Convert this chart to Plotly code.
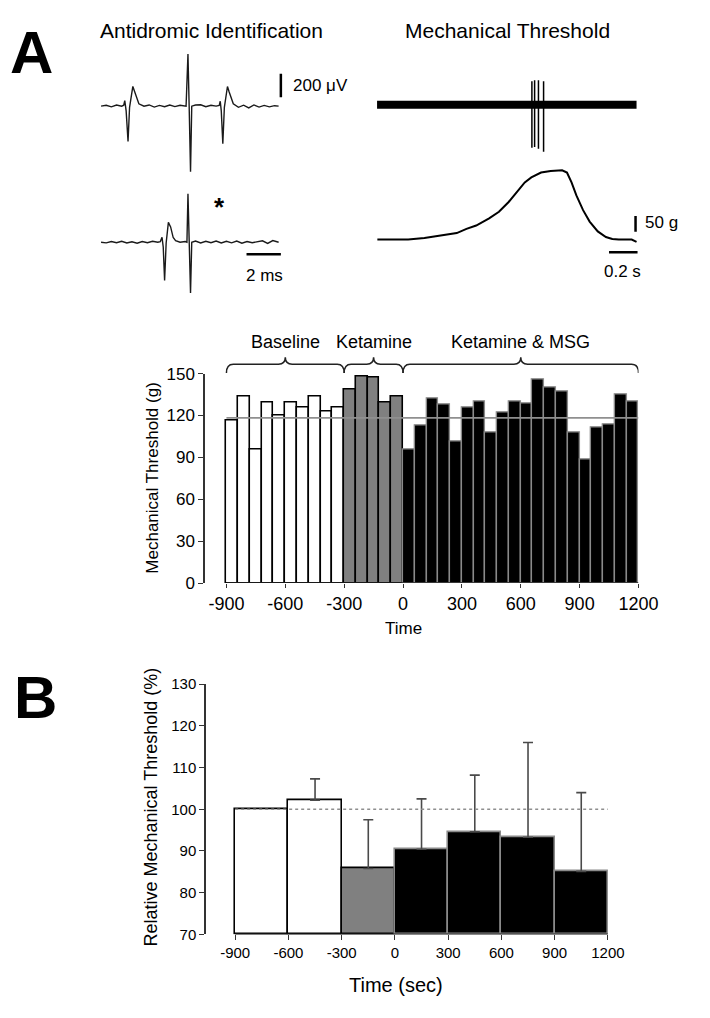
import plotly.graph_objects as go

W, H = 710, 1018
FONT = "Liberation Sans, Arial, sans-serif"

# ---------------- Panel A: bar histogram (60 s bins) ----------------
a_bin_width = 60
a_start = -900
baseline_vals = [116.4, 133.5, 95.3, 129, 119.9, 129, 125.8, 133.5, 122.5, 125.8]
ketamine_vals = [138.6, 148.2, 147, 129.3, 133.5]
msg_vals = [95.8, 112.8, 131.8, 127.6, 101.2, 125.5, 129.7, 107.5, 122.2, 129.7,
            128.5, 145.6, 140.2, 136.9, 107.5, 88.5, 111.7, 113.8, 134.8, 129.7]
baseline_mean = 118.3
a_yticks = [0, 30, 60, 90, 120, 150]
a_xticks = [-900, -600, -300, 0, 300, 600, 900, 1200]
a_xticktext = ["-900", "-600", "-300", "0", "300", "600", "900", "1200"]
periods = [(-900, -300, "Baseline"), (-300, 0, "Ketamine"), (0, 1200, "Ketamine & MSG")]
drug_marks = [(-300, "#8c8c8c"), (0, "#000000")]

# ---------------- Panel B: 300 s bins, mean + SD ----------------
b_centers = [-750, -450, -150, 150, 450, 750, 1050]
b_width = 300
b_vals = [100, 102.2, 85.8, 90.4, 94.6, 93.3, 85.1]
b_err = [None, 5.1, 11.7, 12.1, 13.6, 22.7, 18.9]
b_phase = ["base", "base", "ket", "msg", "msg", "msg", "msg"]
b_yticks = [70, 80, 90, 100, 110, 120, 130]
b_xticks = [-900, -600, -300, 0, 300, 600, 900, 1200]
b_xticktext = ["-900", "-600", "-300", "0", "300", "600", "900", "1200"]

# ---------------- Antidromic traces (ms, uV) ----------------
up_t = [0, 0.3, 0.6, 0.9, 1.2, 1.32, 1.38, 1.46, 1.57, 1.66, 1.85, 1.95, 2.2, 2.5, 2.8, 3.1, 3.4, 3.7,
        4.0, 4.3, 4.6, 4.95, 5.06, 5.13, 5.21, 5.28, 5.5, 5.8, 6.1, 6.4, 6.7, 6.88, 6.94, 7.0, 7.09,
        7.18, 7.36, 7.46, 7.7, 8.0, 8.3, 8.6, 8.9, 9.2, 9.5, 9.8, 10.1, 10.34]
up_v = [0, 8, -6, 10, 0, 8, 47, -40, -300, -10, 167, 120, 20, 0, 10, -8, 6, -5,
        10, -4, 8, 0, 442, 0, -556, 0, 10, 12, -5, 8, 0, 6, 42, -40, -319,
        -10, 167, 120, 20, -10, 8, -15, 10, -8, 6, -6, 4, 0]
lo_t = [0, 0.3, 0.6, 0.9, 1.2, 1.5, 1.8, 2.1, 2.4, 2.7, 3.0, 3.3, 3.45, 3.55, 3.62, 3.70, 3.79,
        3.92, 4.05, 4.2, 4.34, 4.6, 4.9, 5.0, 5.06, 5.13, 5.21, 5.28, 5.5, 5.8, 6.1, 6.4, 6.7, 7.0,
        7.3, 7.6, 7.9, 8.2, 8.5, 8.8, 9.1, 9.4, 9.7, 10.0, 10.34]
lo_v = [0, -5, 6, -4, 8, -6, 4, -8, 6, -4, 8, 0, 6, 42, -40, -325, -6,
        169, 130, 40, 14, 0, 6, 0, 411, 0, -431, 0, 10, -6, 8, -4, 10, -6,
        8, -5, 10, -8, 6, -4, 6, 12, -10, 14, 0]

# ---------------- Mechanical threshold traces (s) ----------------
unit_t = [0, 1.82]
unit_v = [0, 0]
spike_t = [1.086, 1.105, 1.132, 1.168]
spike_top = [24, 25, 25, 24]
spike_bot = [-44, -43, -45, -48]
force_t = [0.002, 0.105, 0.218, 0.332, 0.445, 0.559, 0.627, 0.695, 0.786, 0.855, 0.923, 0.991,
           1.036, 1.082, 1.15, 1.218, 1.298, 1.332, 1.364, 1.398, 1.445, 1.491, 1.548, 1.605,
           1.650, 1.695, 1.786, 1.820]
force_g = [0, -1, 0, 5.2, 12.5, 20.8, 34.4, 44.8, 67.7, 88.5, 119.8, 156.3,
           182.3, 197.9, 213.5, 218.8, 220.8, 213.5, 182.3, 140.6, 93.8, 57.3, 26.0, 8.3,
           2.1, 0, 0, -7.3]


def dx(p0, p1):
    return [p0 / W, p1 / W]


def dy(top, bot):
    return [1 - bot / H, 1 - top / H]


def py(p):
    return 1 - p / H


fig = go.Figure()

# ---- Panel A bars ----
def centers(start, n, offset=0):
    return [start + offset + a_bin_width * (i + 0.5) for i in range(n)]

nb, nk = len(baseline_vals), len(ketamine_vals)
fig.add_trace(go.Bar(x=centers(a_start, nb), y=baseline_vals, width=a_bin_width,
                     marker=dict(color="white", line=dict(color="black", width=1.6)),
                     xaxis="x", yaxis="y", showlegend=False))
fig.add_trace(go.Bar(x=centers(a_start, nk, a_bin_width * nb), y=ketamine_vals, width=a_bin_width,
                     marker=dict(color="#808080", line=dict(color="black", width=1.6)),
                     xaxis="x", yaxis="y", showlegend=False))
fig.add_trace(go.Bar(x=centers(a_start, len(msg_vals), a_bin_width * (nb + nk)), y=msg_vals,
                     width=a_bin_width,
                     marker=dict(color="black", line=dict(color="#8a8a8a", width=1.4)),
                     xaxis="x", yaxis="y", showlegend=False))
fig.add_trace(go.Scatter(x=[a_xticks[0], a_xticks[-1]], y=[baseline_mean, baseline_mean],
                         mode="lines", line=dict(color="#8f8f8f", width=1.6),
                         xaxis="x", yaxis="y", showlegend=False))
fig.add_trace(go.Scatter(x=[m[0] for m in drug_marks], y=[-4.9, -4.9], mode="markers",
                         marker=dict(symbol="triangle-up", size=11,
                                     color=[m[1] for m in drug_marks]),
                         cliponaxis=False, xaxis="x", yaxis="y", showlegend=False))

# ---- Panel B bars ----
fillmap = {"base": "white", "ket": "#808080", "msg": "black"}
linemap = {"base": "black", "ket": "black", "msg": "#8a8a8a"}
fig.add_trace(go.Bar(x=b_centers, y=[v - 70 for v in b_vals], base=70, width=b_width,
                     marker=dict(color=[fillmap[p] for p in b_phase],
                                 line=dict(color=[linemap[p] for p in b_phase], width=1.6)),
                     xaxis="x2", yaxis="y2", showlegend=False))
ei = [i for i, e in enumerate(b_err) if e is not None]
fig.add_trace(go.Scatter(x=[b_centers[i] for i in ei], y=[b_vals[i] for i in ei], mode="markers",
                         marker=dict(size=1, color="rgba(0,0,0,0)"),
                         error_y=dict(type="data", symmetric=False, array=[b_err[i] for i in ei],
                                      arrayminus=[0] * len(ei), color="#4a4a4a", thickness=1.6,
                                      width=5),
                         xaxis="x2", yaxis="y2", showlegend=False))
fig.add_trace(go.Scatter(x=[b_xticks[0], b_xticks[-1]], y=[100, 100], mode="lines",
                         line=dict(color="#8f8f8f", width=1.5, dash="dot"),
                         xaxis="x2", yaxis="y2", showlegend=False))
fig.add_trace(go.Scatter(x=[m[0] for m in drug_marks], y=[68.55, 68.55], mode="markers",
                         marker=dict(symbol="triangle-up", size=11,
                                     color=[m[1] for m in drug_marks]),
                         cliponaxis=False, xaxis="x2", yaxis="y2", showlegend=False))

# ---- Antidromic traces ----
fig.add_trace(go.Scatter(x=up_t, y=up_v, mode="lines", line=dict(color="#1a1a1a", width=1.4),
                         xaxis="x3", yaxis="y3", showlegend=False, cliponaxis=False))
fig.add_trace(go.Scatter(x=lo_t, y=lo_v, mode="lines", line=dict(color="#1a1a1a", width=1.4),
                         xaxis="x4", yaxis="y4", showlegend=False, cliponaxis=False))
# scale bars (200 uV, 2 ms)
fig.add_trace(go.Scatter(x=[10.47, 10.47], y=[75, 75 + 200], mode="lines",
                         line=dict(color="black", width=2.5), xaxis="x3", yaxis="y3",
                         showlegend=False))
fig.add_trace(go.Scatter(x=[10.47 - 2, 10.47], y=[-102, -102], mode="lines",
                         line=dict(color="black", width=2.5), xaxis="x4", yaxis="y4",
                         showlegend=False))

# ---- Mechanical traces ----
fig.add_trace(go.Scatter(x=unit_t, y=unit_v, mode="lines", line=dict(color="black", width=8),
                         xaxis="x5", yaxis="y5", showlegend=False))
sx, sy = [], []
for t, a, b in zip(spike_t, spike_top, spike_bot):
    sx += [t, t, None]
    sy += [b, a, None]
fig.add_trace(go.Scatter(x=sx, y=sy, mode="lines", line=dict(color="black", width=1.5),
                         xaxis="x5", yaxis="y5", showlegend=False, cliponaxis=False))
fig.add_trace(go.Scatter(x=force_t, y=force_g, mode="lines", line=dict(color="black", width=2),
                         xaxis="x6", yaxis="y6", showlegend=False, cliponaxis=False))
fig.add_trace(go.Scatter(x=[1.813, 1.813], y=[25, 25 + 50], mode="lines",
                         line=dict(color="black", width=2.5), xaxis="x6", yaxis="y6",
                         showlegend=False))
fig.add_trace(go.Scatter(x=[1.827 - 0.2, 1.827], y=[-40.6, -40.6], mode="lines",
                         line=dict(color="black", width=2.5), xaxis="x6", yaxis="y6",
                         showlegend=False))

hidden = dict(visible=False, fixedrange=True)
tickfont_ay = dict(family=FONT, size=17, color="black")
tickfont_ax = dict(family=FONT, size=18, color="black")
tickfont_b = dict(family=FONT, size=15, color="black")

# A: -900 -> 233px, 1200 -> 657px ; axis at 211px
a_ppx = (657 - 233) / 2100
a_x0 = -900 - (233 - 211) / a_ppx
b_ppx = (625.5 - 242) / 2100
b_x0 = -900 - (242 - 212) / b_ppx

fig.update_layout(
    width=W, height=H, margin=dict(l=0, r=0, t=0, b=0),
    paper_bgcolor="white", plot_bgcolor="white", barmode="overlay", bargap=0,
    font=dict(family=FONT, color="black"),
    xaxis=dict(domain=dx(211, 657), range=[a_x0, 1200], tickvals=a_xticks, ticktext=a_xticktext,
               ticks="outside", ticklen=4, tickcolor="#333", tickwidth=1.2, showgrid=False,
               zeroline=False, showline=False, tickfont=tickfont_ax, fixedrange=True, anchor="y"),
    yaxis=dict(domain=dy(371.5, 585), range=[0, 150], tickvals=a_yticks, ticks="outside",
               ticklen=5, tickcolor="#333", tickwidth=1.4, showgrid=False, zeroline=False,
               showline=True, linecolor="#333", linewidth=1.5, tickfont=tickfont_ay,
               fixedrange=True, anchor="x"),
    xaxis2=dict(domain=dx(212, 625.5), range=[b_x0, 1200], tickvals=b_xticks,
                ticktext=b_xticktext, ticks="outside", ticklen=5, tickcolor="#333",
                tickwidth=1.2, showgrid=False, zeroline=False, showline=False,
                tickfont=tickfont_b, fixedrange=True, anchor="y2"),
    yaxis2=dict(domain=dy(688, 943), range=[70, 130], tickvals=b_yticks, ticks="outside",
                ticklen=5, tickcolor="#333", tickwidth=1.4, showgrid=False, zeroline=False,
                showline=True, linecolor="#333", linewidth=1.5, tickfont=tickfont_b,
                fixedrange=True, anchor="x2"),
    xaxis3=dict(domain=dx(100, 300), range=[(100 - 104) / 17.67, (300 - 104) / 17.67],
                anchor="y3", **hidden),
    yaxis3=dict(domain=dy(40, 175), range=[(99 - 175) / 0.12, (99 - 40) / 0.12],
                anchor="x3", **hidden),
    xaxis4=dict(domain=dx(100, 300), range=[(100 - 104) / 17.67, (300 - 104) / 17.67],
                anchor="y4", **hidden),
    yaxis4=dict(domain=dy(180, 295), range=[(237.7 - 295) / 0.12, (237.7 - 180) / 0.12],
                anchor="x4", **hidden),
    xaxis5=dict(domain=dx(380, 670), range=[(380 - 388) / 146.7, (670 - 388) / 146.7],
                anchor="y5", **hidden),
    yaxis5=dict(domain=dy(60, 150), range=[97.5 - 150, 97.5 - 60], anchor="x5", **hidden),
    xaxis6=dict(domain=dx(380, 670), range=[(380 - 388) / 146.7, (670 - 388) / 146.7],
                anchor="y6", **hidden),
    yaxis6=dict(domain=dy(150, 262), range=[(235 - 262) * 3.125, (235 - 150) * 3.125],
                anchor="x6", **hidden),
)

shapes = []
# x axis lines (start at first tick, detached from y axis)
shapes.append(dict(type="line", xref="x", yref="y", x0=a_xticks[0], x1=a_xticks[-1], y0=0, y1=0,
                   line=dict(color="#222", width=1.6), layer="above"))
shapes.append(dict(type="line", xref="x2", yref="y2", x0=b_xticks[0], x1=b_xticks[-1], y0=70,
                   y1=70, line=dict(color="#222", width=1.6), layer="above"))
# braces over periods
yb, ym, yp = py(371), py(362), py(355)
d = 35
for x0, x1, _ in periods:
    xm = (x0 + x1) / 2
    path = (f"M {x0},{yb} Q {x0},{ym} {x0 + d},{ym} L {xm - d},{ym} Q {xm},{ym} {xm},{yp} "
            f"Q {xm},{ym} {xm + d},{ym} L {x1 - d},{ym} Q {x1},{ym} {x1},{yb}")
    shapes.append(dict(type="path", xref="x", yref="paper", path=path,
                       line=dict(color="#222", width=1.5)))
fig.update_layout(shapes=shapes)

annotations = []


def ann(text, x, y, size, xanchor="center", bold=False, angle=0, xref="paper"):
    annotations.append(dict(text=f"<b>{text}</b>" if bold else text,
                            x=x if xref != "paper" else x / W,
                            y=py(y), xref=xref, yref="paper", xanchor=xanchor, yanchor="middle",
                            showarrow=False, textangle=angle,
                            font=dict(family=FONT, size=size, color="black")))


for x0, x1, label in periods:
    ann(label, (x0 + x1) / 2, 339, 18, xref="x")
ann("A", 32, 44, 60, bold=True)
ann("B", 37, 702, 60, bold=True)
ann("Antidromic Identification", 218, 22, 21)
ann("Mechanical Threshold", 522, 22, 21)
ann("200 μV", 299, 78, 17, xanchor="left")
ann("2 ms", 272, 272, 17)
ann("*", 226, 202, 26, bold=True)
ann("50 g", 662, 218, 17, xanchor="left")
ann("0.2 s", 641, 268, 17)
ann("Mechanical Threshold (g)", 156, 478, 17, angle=-90)
ann("Time", 415, 631, 17)
ann("Relative Mechanical Threshold (%)", 155, 813, 18, angle=-90)
ann("Time (sec)", 407, 995, 20)
fig.update_layout(annotations=annotations)

fig.write_html(
    "out.html",
    config={"displayModeBar": False},
    post_script=("document.documentElement.style.margin='0';"
                 "document.body.style.margin='0';document.body.style.padding='0';"),
)
